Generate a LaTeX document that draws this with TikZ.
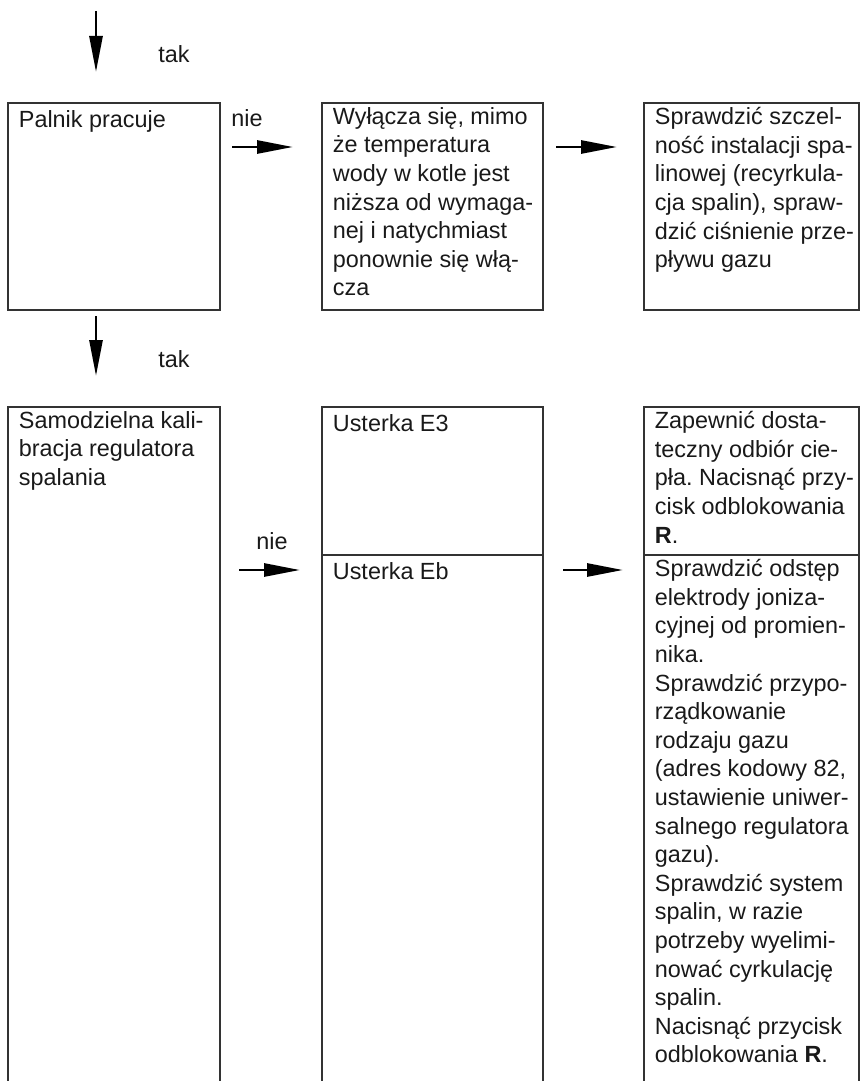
\documentclass[tikz,border=0pt]{standalone}
\usepackage{fontspec}
\setmainfont{Liberation Sans}
\frenchspacing
\usetikzlibrary{arrows.meta,positioning}

\begin{document}
\begin{tikzpicture}[x=0.5pt,y=-0.5pt,
    box/.style={draw=black!80, line width=0.7pt, anchor=north west, inner sep=0pt, outer sep=0pt},
    txt/.style={anchor=north west, yshift=10.01pt, align=left, inner sep=0pt, text=black!90,
                font=\fontsize{11.7}{14.3}\selectfont, execute at begin node=\strut},
    flow/.style={-{Triangle[length=18pt,width=6.5pt]}, line width=1.4pt}]
        \useasboundingbox (0,0) rectangle (860,1081);
        \clip (0,0) rectangle (860,1081);

        % upper row
        \node[box, minimum width=106pt, minimum height=103.5pt]   (palnik) at (8,103) {};
        \node[box, minimum width=110.5pt, minimum height=103.5pt] (wylacza) [right=51pt of palnik.north east, anchor=north west] {};
        \node[box, minimum width=107.5pt, minimum height=103.5pt] (szczel) [right=50.5pt of wylacza.north east, anchor=north west] {};

        % lower row, open at the bottom
        \node[box, minimum width=106pt, minimum height=360pt]     (kalib) at (8,407) {};
        \node[box, minimum width=110.5pt, minimum height=74pt]    (e3) at (322,407) {};
        \node[box, minimum width=110.5pt, minimum height=290pt]   (eb) [below=0pt of e3.south west, anchor=north west] {};
        \node[box, minimum width=107.5pt, minimum height=74pt]    (e3fix) at (644,407) {};
        \node[box, minimum width=107.5pt, minimum height=290pt]   (ebfix) [below=0pt of e3fix.south west, anchor=north west] {};

        % texts (placed at the first baseline)
        \node[txt] (palnikT) at (18.5,127) {Palnik pracuje};
        \node[txt] (wylaczaT) at (332.5,127) {Wyłącza się, mimo\\że temperatura\\wody w kotle jest\\niższa od wymaga-\\nej i natychmiast\\ponownie się włą-\\cza};
        \node[txt] (szczelT) at (654.5,127) {Sprawdzić szczel-\\ność instalacji spa-\\linowej (recyrkula-\\cja spalin), spraw-\\dzić ciśnienie prze-\\pływu gazu};
        \node[txt] (kalibT) at (18.5,431) {Samodzielna kali-\\bracja regulatora\\spalania};
        \node[txt] (e3T) at (332.5,431) {Usterka E3};
        \node[txt] (ebT) at (332.5,579) {Usterka Eb};
        \node[txt] (e3fixT) at (654.5,431) {Zapewnić dosta-\\teczny odbiór cie-\\pła. Nacisnąć przy-\\cisk odblokowania\\\textbf{R}.};
        \node[txt] (ebfixT) at (654.5,579) {Sprawdzić odstęp\\elektrody joniza-\\cyjnej od promien-\\nika.\\Sprawdzić przypo-\\rządkowanie\\rodzaju gazu\\(adres kodowy 82,\\ustawienie uniwer-\\salnego regulatora\\gazu).\\Sprawdzić system\\spalin, w razie\\potrzeby wyelimi-\\nować cyrkulację\\spalin.\\Nacisnąć przycisk\\odblokowania \textbf{R}.};

        \node[txt] (tak1) at (158,62) {tak};
        \node[txt] (tak2) at (158,367) {tak};
        \node[txt] (nie1) at (231,126) {nie};
        \node[txt] (nie2) at (256,549) {nie};

        % arrows
        \coordinate (in1) at (96,11);   \coordinate (in1e) at (96,72);
        \coordinate (tak2s) at (96,316); \coordinate (tak2e) at (96,376);
        \coordinate (nie1s) at (232,147); \coordinate (nie1e) at (293,147);
        \coordinate (fix1s) at (556,147); \coordinate (fix1e) at (617,147);
        \coordinate (nie2s) at (239,570); \coordinate (nie2e) at (300,570);
        \coordinate (fix2s) at (563,570); \coordinate (fix2e) at (623,570);
        \path[flow]
                 (in1) edge (in1e)
                 (tak2s) edge (tak2e)
                 (nie1s) edge (nie1e)
                 (fix1s) edge (fix1e)
                 (nie2s) edge (nie2e)
                 (fix2s) edge (fix2e)
                 ;
\end{tikzpicture}
\end{document}
